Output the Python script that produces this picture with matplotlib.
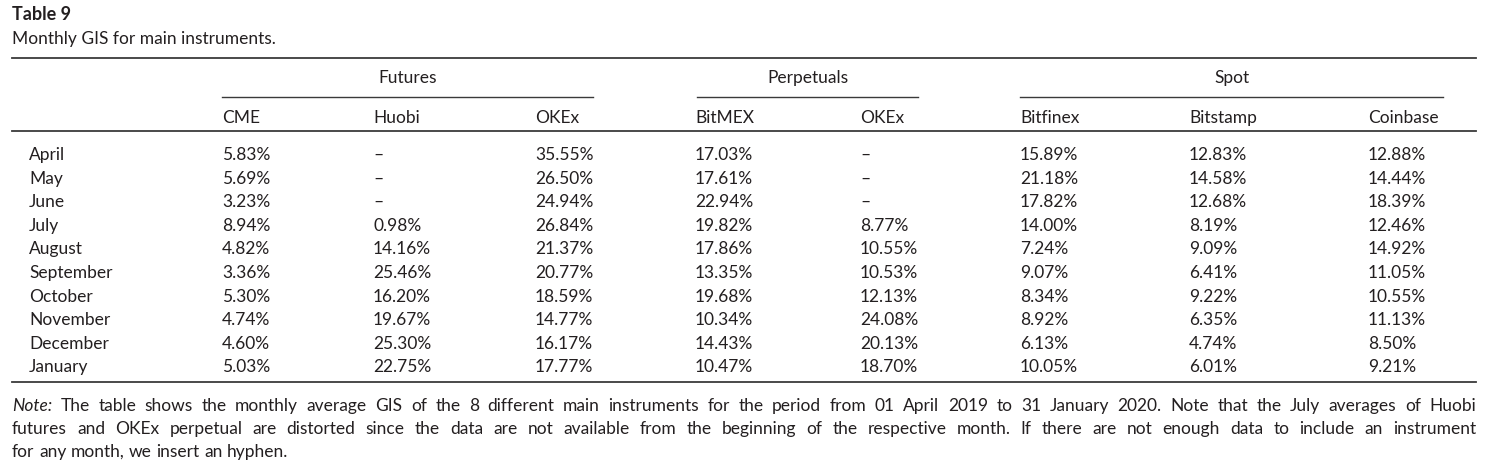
import matplotlib
matplotlib.use("Agg")
import matplotlib.pyplot as plt

# table data
months = ["April", "May", "June", "July", "August", "September",
          "October", "November", "December", "January"]
groups = ["Futures", "Perpetuals", "Spot"]
instruments = ["CME", "Huobi", "OKEx", "BitMEX", "OKEx",
               "Bitfinex", "Bitstamp", "Coinbase"]
cme = [5.83, 5.69, 3.23, 8.94, 4.82, 3.36, 5.30, 4.74, 4.60, 5.03]
huobi = [None, None, None, 0.98, 14.16, 25.46, 16.20, 19.67, 25.30, 22.75]
okex_fut = [35.55, 26.50, 24.94, 26.84, 21.37, 20.77, 18.59, 14.77, 16.17, 17.77]
bitmex = [17.03, 17.61, 22.94, 19.82, 17.86, 13.35, 19.68, 10.34, 14.43, 10.47]
okex_perp = [None, None, None, 8.77, 10.55, 10.53, 12.13, 24.08, 20.13, 18.70]
bitfinex = [15.89, 21.18, 17.82, 14.00, 7.24, 9.07, 8.34, 8.92, 6.13, 10.05]
bitstamp = [12.83, 14.58, 12.68, 8.19, 9.09, 6.41, 9.22, 6.35, 4.74, 6.01]
coinbase = [12.88, 14.44, 18.39, 12.46, 14.92, 11.05, 10.55, 11.13, 8.50, 9.21]
columns = [cme, huobi, okex_fut, bitmex, okex_perp, bitfinex, bitstamp, coinbase]

title = "Table 9"
subtitle = "Monthly GIS for main instruments."
note_lines = [
    "The table shows the monthly average GIS of the 8 different main instruments "
    "for the period from 01 April 2019 to 31 January 2020. Note that the July "
    "averages of Huobi",
    "futures and OKEx perpetual are distorted since the data are not available "
    "from the beginning of the respective month. If there are not enough data to "
    "include an instrument",
    "for any month, we insert an hyphen.",
]

# layout (pixels)
col_x = [222, 373, 535, 695, 860, 1020, 1189, 1368]
group_span = [(222, 593), (697, 918), (1020, 1443)]
left, right = 12, 1476
row_y0, row_dy = 155, 23.6

plt.rcParams["font.family"] = ["Lato", "DejaVu Sans"]
fs = 12.5
ink = "#231f20"
rule = "#3a3a3a"

fig = plt.figure(figsize=(15, 4.76), dpi=100)
ax = fig.add_axes([0, 0, 1, 1])
ax.set_xlim(0, 1500)
ax.set_ylim(476, 0)
ax.axis("off")

ax.text(left, 14, title, fontsize=fs + 0.5, fontweight="bold", va="center", color=ink)
ax.text(left, 39, subtitle, fontsize=fs, va="center", color=ink)

ax.plot([left, right], [58, 58], color=rule, lw=1.3)
ax.plot([left, right], [131, 131], color=rule, lw=1.3)
ax.plot([left, right], [382, 382], color=rule, lw=1.3)

for g, (a, b) in zip(groups, group_span):
    ax.text((a + b) / 2, 78, g, fontsize=fs, ha="center", va="center", color=ink)
    ax.plot([a, b], [97, 97], color=rule, lw=1.0)

for name, x in zip(instruments, col_x):
    ax.text(x, 118, name, fontsize=fs, va="center", color=ink)

for i, m in enumerate(months):
    y = row_y0 + i * row_dy
    ax.text(29, y, m, fontsize=fs, va="center", color=ink)
    for col, x in zip(columns, col_x):
        v = col[i]
        s = "\u2013" if v is None else f"{v:.2f}%"
        ax.text(x, y, s, fontsize=fs, va="center", color=ink)

# justified note paragraph
fig.canvas.draw()
renderer = fig.canvas.get_renderer()


def width_of(s, style="normal"):
    t = ax.text(0, 0, s, fontsize=fs, style=style)
    bb = t.get_window_extent(renderer)
    t.remove()
    return bb.width * (1500 / fig.bbox.width)


space = width_of("a a") - width_of("aa")
for li, line in enumerate(note_lines):
    ws = [(w, "normal") for w in line.split()]
    if li == 0:
        ws = [("Note:", "italic")] + ws
    widths = [width_of(w, st) for w, st in ws]
    gap = space
    if li < len(note_lines) - 1:
        gap = (right - left - sum(widths)) / (len(ws) - 1)
    x = left
    y = 406 + li * 23
    for (w, st), ww in zip(ws, widths):
        ax.text(x, y, w, fontsize=fs, style=st, va="center", color=ink)
        x += ww + gap

fig.savefig("out.png", dpi=100)
